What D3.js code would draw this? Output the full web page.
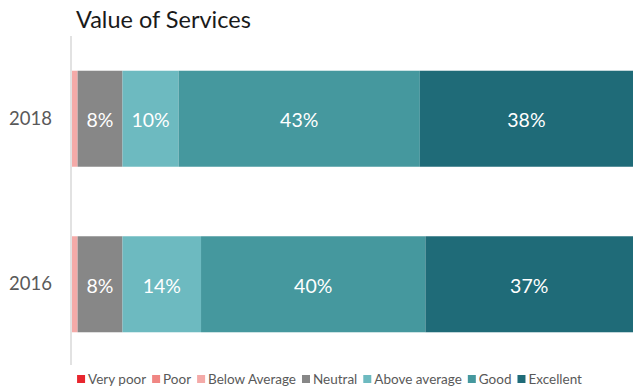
<!DOCTYPE html>
<html>
<head>
<meta charset="utf-8">
<script src="https://cdn.jsdelivr.net/npm/d3@7"></script>
<style>
  html, body { margin: 0; padding: 0; background: #fff; }
  svg { display: block; font-family: Lato, "Open Sans", sans-serif; }
</style>
</head>
<body>
<svg id="chart" width="642" height="387"></svg>
<script>
// Survey ratings, share of respondents (%)
const years = ["2018", "2016"];
const ratings = ["Very poor", "Poor", "Below Average", "Neutral", "Above average", "Good", "Excellent"];
const colors = ["#e8262e", "#f08683", "#f4aaa8", "#878787", "#6dbac0", "#45989e", "#1f6b78"];
const share2018 = [0, 0, 1, 8, 10, 43, 38];
const share2016 = [0, 0, 1, 8, 14, 40, 37];
const values = { "2018": share2018, "2016": share2016 };

const svg = d3.select("#chart");
const margin = { left: 72, right: 9 };
const W = 642;

const x = d3.scaleLinear().domain([0, 100]).range([margin.left, W - margin.right]);
const y = d3.scaleBand().domain(years).range([31, 372]).paddingInner(0.42).paddingOuter(0.24);

// title
svg.append("text")
  .attr("x", 76).attr("y", 28)
  .attr("font-size", 23.5).attr("fill", "#1a1a1a")
  .text("Value of Services");

// stacked rows
const stackRows = years.map(yr => {
  const row = { year: yr };
  ratings.forEach((r, i) => row[r] = values[yr][i]);
  return row;
});
const series = d3.stack().keys(ratings)(stackRows);

const g = svg.append("g");
series.forEach((s, i) => {
  s.forEach(d => {
    const w = x(d[1]) - x(d[0]);
    if (w <= 0) return;
    g.append("rect")
      .attr("x", x(d[0])).attr("y", y(d.data.year))
      .attr("width", w).attr("height", y.bandwidth())
      .attr("fill", colors[i]);
    if (d[1] - d[0] >= 5) {
      g.append("text")
        .attr("x", (x(d[0]) + x(d[1])) / 2)
        .attr("y", y(d.data.year) + y.bandwidth() / 2 + 1)
        .attr("text-anchor", "middle").attr("dominant-baseline", "central")
        .attr("font-size", 19.5).attr("fill", "#fff")
        .text((d[1] - d[0]) + "%");
    }
  });
});

// category axis
const yAxis = svg.append("g").attr("transform", `translate(${margin.left - 1},0)`)
  .call(d3.axisLeft(y).tickSize(0).tickPadding(19));
yAxis.select(".domain").remove();
yAxis.append("line")
  .attr("x1", 0).attr("x2", 0).attr("y1", 36).attr("y2", 365)
  .attr("stroke", "#d9d9d9").attr("stroke-width", 1.5);
yAxis.selectAll(".tick text")
  .attr("font-size", 18.5).attr("fill", "#595959")
  .attr("font-family", "Lato, 'Open Sans', sans-serif");

// legend
const leg = svg.append("g");
const items = ratings.map((r, i) => {
  const it = leg.append("g");
  it.append("rect").attr("width", 8).attr("height", 8).attr("y", -9).attr("fill", colors[i]);
  const t = it.append("text").attr("x", 11).attr("font-size", 13.5).attr("fill", "#595959").text(r);
  return { it, w: 11 + t.node().getComputedTextLength() };
});
const gap = 6;
const total = d3.sum(items, d => d.w) + gap * (items.length - 1);
let cx = 329.5 - total / 2;
items.forEach(d => {
  d.it.attr("transform", `translate(${cx},384)`);
  cx += d.w + gap;
});
</script>
</body>
</html>
